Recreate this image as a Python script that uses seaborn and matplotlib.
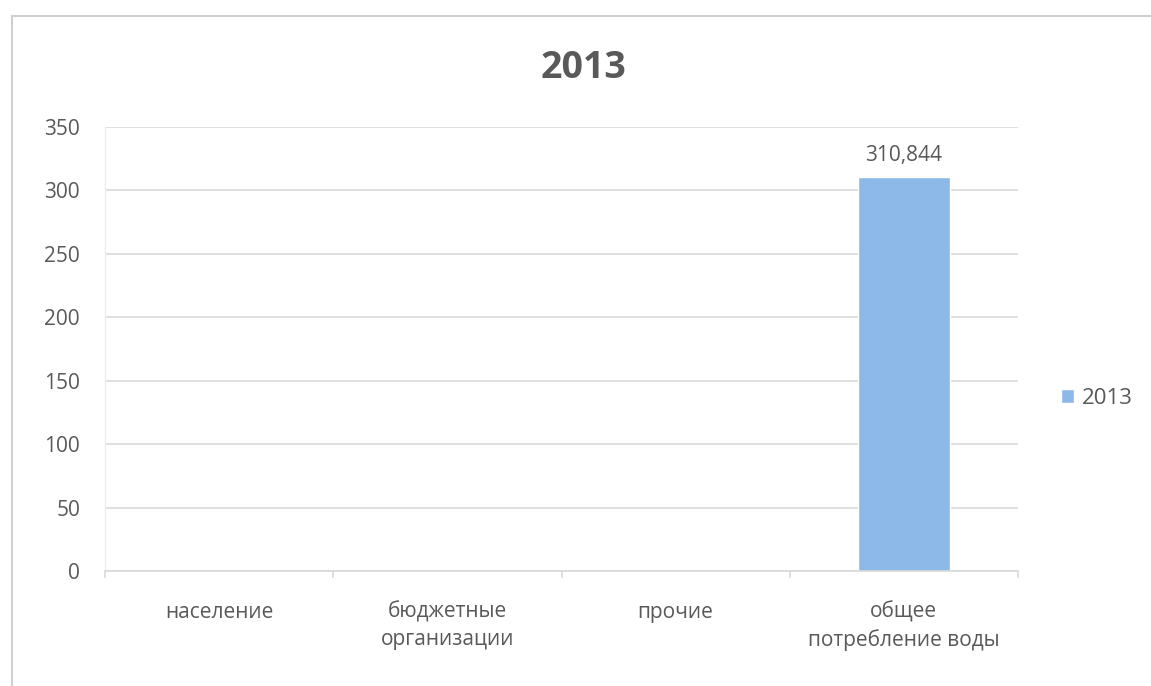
import numpy as np
import pandas as pd
import matplotlib
matplotlib.use("Agg")
import matplotlib.pyplot as plt
import seaborn as sns
from matplotlib.lines import Line2D

categories = ["население", "бюджетные\nорганизации", "прочие", "общее\nпотребление воды"]
values_2013 = [np.nan, np.nan, np.nan, 310.844]
series_name = "2013"
title = "2013"
yticks = [0, 50, 100, 150, 200, 250, 300, 350]

sns.set_theme(style="white")
plt.rcParams['font.family'] = ['Open Sans', 'DejaVu Sans']

text_color = "#595959"
grid_color = "#d9d9d9"
bar_color = "#8db9e8"

df = pd.DataFrame({"category": categories, "value": values_2013, "series": series_name})

fig = plt.figure(figsize=(11.51, 6.86), dpi=100)
ax = fig.add_axes([105/1151, 1 - 571/686, (1018-105)/1151, (571-127)/686])

sns.barplot(data=df, x="category", y="value", hue="series", palette=[bar_color],
            width=0.4, ax=ax, saturation=1, legend=True)

ax.set_ylim(0, 350)
ax.set_yticks(yticks)
ax.set_xlim(-0.5, len(categories) - 0.5)
ax.yaxis.grid(True, color=grid_color, linewidth=1.2)
ax.set_axisbelow(True)
ax.set_xlabel("")
ax.set_ylabel("")

for s in ["top", "right"]:
    ax.spines[s].set_visible(False)
ax.spines["left"].set_color("#ececec")
ax.spines["bottom"].set_color(grid_color)
ax.spines["left"].set_linewidth(1.0)
ax.spines["bottom"].set_linewidth(1.2)

ax.tick_params(axis="y", length=0, labelsize=15, labelcolor=text_color, pad=18)
ax.tick_params(axis="x", which="major", length=0, labelsize=15, labelcolor=text_color, pad=22)
ax.set_xticks(np.arange(-0.5, len(categories)), minor=True)
ax.tick_params(axis="x", which="minor", bottom=True, length=5, color=grid_color,
               width=1.2, direction="out")
for lbl in ax.get_xticklabels():
    lbl.set_linespacing(1.35)

for bar in ax.containers[0]:
    if bar is None:
        continue
    h = bar.get_height()
    if np.isnan(h):
        continue
    ax.annotate(f"{h:.3f}".replace(".", ","), (bar.get_x() + bar.get_width() / 2, h),
                xytext=(0, 8), textcoords="offset points", ha="center", va="bottom",
                fontsize=15, color=text_color)

fig.text(584/1151, 1 - 68/686, title, ha="center", va="center", fontsize=27,
         fontweight="bold", color=text_color)

leg = ax.legend(loc="center left", bbox_to_anchor=(1061/1151, 1 - 398/686),
                bbox_transform=fig.transFigure, frameon=False, fontsize=16,
                handlelength=0.6, handleheight=0.6, handletextpad=0.35,
                borderpad=0, borderaxespad=0, labelcolor=text_color)

fig.lines.append(Line2D([12/1151, 12/1151], [0, 1 - 16/686], transform=fig.transFigure,
                        color="#d0d0d0", linewidth=1.5))
fig.lines.append(Line2D([12/1151, 1], [1 - 16/686, 1 - 16/686], transform=fig.transFigure,
                        color="#d0d0d0", linewidth=1.5))

fig.savefig("out.png", dpi=100)
